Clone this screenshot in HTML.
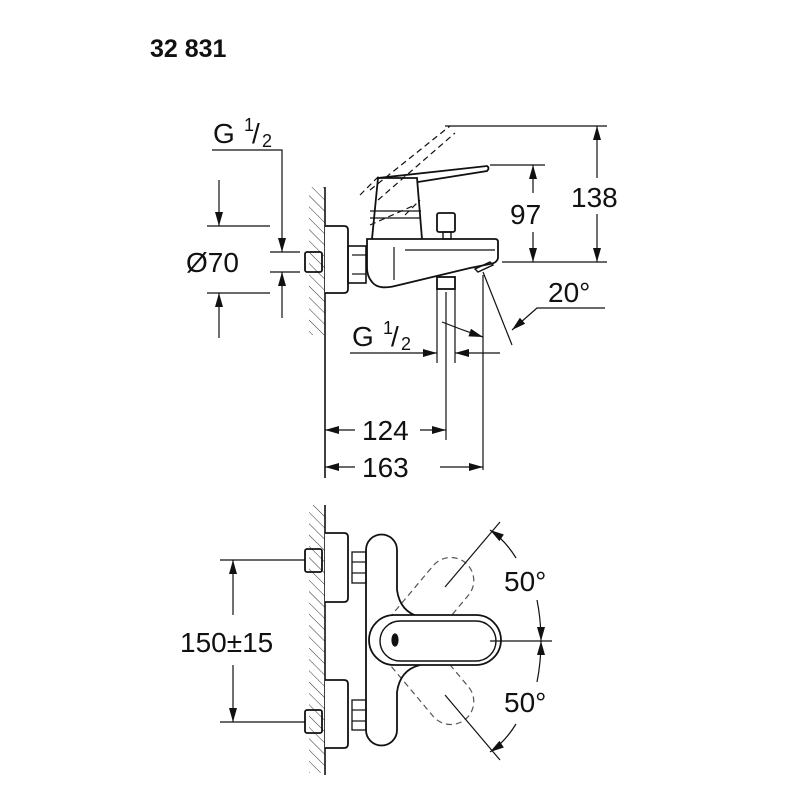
<!DOCTYPE html>
<html><head><style>body{margin:0;background:#fff}svg{display:block}text{font-family:"Liberation Sans",sans-serif;fill:#111}</style></head><body>
<svg width="800" height="800" viewBox="0 0 800 800" xmlns="http://www.w3.org/2000/svg">
<defs>
<pattern id="h" width="8" height="8" patternUnits="userSpaceOnUse" patternTransform="rotate(-45)"><line x1="0" y1="0" x2="0" y2="8" stroke="#333" stroke-width="1"/></pattern>
<marker id="a" viewBox="0 0 14 8" refX="14" refY="4" markerWidth="15" markerHeight="8" orient="auto-start-reverse" markerUnits="userSpaceOnUse"><path d="M0,0L14,4L0,8z" fill="#111"/></marker>
</defs>
<text x="150" y="57" font-size="25" font-weight="bold">32 831</text>
<g fill="none" stroke="#111" stroke-width="1.2">
<!-- TOP VIEW -->
<rect x="309" y="187" width="16" height="148" fill="url(#h)" stroke="none"/>
<line x1="325" y1="187" x2="325" y2="478" stroke-width="1.6"/>
<path d="M325,226H344Q348,226 348,230V289Q348,293 344,293H325" stroke-width="1.8" fill="#fff"/>
<rect x="305" y="252" width="17" height="20" rx="2" stroke-width="1.8"/>
<rect x="348" y="246" width="18" height="37" stroke-width="1.6"/>
<line x1="352" y1="255" x2="366" y2="255"/><line x1="352" y1="274" x2="366" y2="274"/>
<path d="M367,239H495Q498,239 498,242V258Q497,263 490,264L470,268Q420,280 395,286Q378,290 372,282Q367,276 367,268Z" stroke-width="1.8" fill="#fff"/>
<line x1="405" y1="250" x2="495" y2="250"/><line x1="394" y1="247" x2="394" y2="280"/>
<path d="M372,239L378,178H417L422,239" stroke-width="1.8"/>
<line x1="370" y1="211" x2="421" y2="211"/><line x1="370" y1="218" x2="421" y2="218"/>
<path d="M378,178L487,166Q490,168 487,171L418,182" stroke-width="1.8"/>
<rect x="437" y="213" width="18" height="19" rx="2" stroke-width="1.8"/>
<rect x="443" y="232" width="8" height="7" stroke-width="1.4"/>
<path d="M475,269L490,262L493,265L478,272Z" stroke-width="1.4"/>
<rect x="437" y="277" width="18" height="12" stroke-width="1.8"/>
<line x1="437" y1="289" x2="437" y2="363"/><line x1="455" y1="289" x2="455" y2="363"/>
<line x1="446" y1="292" x2="446" y2="440"/>
<g stroke-dasharray="6,4"><path d="M370,190L450,126"/><path d="M378,200L455,133"/><path d="M360,195L380,175M405,215L420,200"/><path d="M370,225L415,205"/></g>
<!-- dims right -->
<line x1="445" y1="126" x2="607" y2="126"/><line x1="502" y1="262" x2="607" y2="262"/><line x1="490" y1="165" x2="545" y2="165"/>
<line x1="597" y1="178" x2="597" y2="126" marker-end="url(#a)"/><line x1="597" y1="214" x2="597" y2="262" marker-end="url(#a)"/>
<line x1="533" y1="193" x2="533" y2="165" marker-end="url(#a)"/><line x1="533" y1="232" x2="533" y2="262" marker-end="url(#a)"/>
<!-- dims left -->
<line x1="207" y1="226" x2="270" y2="226"/><line x1="207" y1="293" x2="270" y2="293"/>
<line x1="219" y1="180" x2="219" y2="226" marker-end="url(#a)"/><line x1="219" y1="338" x2="219" y2="293" marker-end="url(#a)"/>
<line x1="270" y1="252" x2="300" y2="252"/><line x1="270" y1="272" x2="300" y2="272"/>
<polyline points="212,150 282,150 282,252" marker-end="url(#a)"/><line x1="282" y1="318" x2="282" y2="272" marker-end="url(#a)"/>
<!-- 20 deg -->
<line x1="483" y1="272" x2="512" y2="345"/>
<polyline points="605,308 537,308 512,330" marker-end="url(#a)"/>
<line x1="483" y1="275" x2="483" y2="470"/>
<path d="M442,322Q462,330 483,337" marker-end="url(#a)"/>
<line x1="350" y1="353" x2="437" y2="353" marker-end="url(#a)"/><line x1="500" y1="353" x2="455" y2="353" marker-end="url(#a)"/>
<line x1="355" y1="430" x2="325" y2="430" marker-end="url(#a)"/><line x1="420" y1="430" x2="446" y2="430" marker-end="url(#a)"/>
<line x1="355" y1="467" x2="325" y2="467" marker-end="url(#a)"/><line x1="440" y1="467" x2="483" y2="467" marker-end="url(#a)"/>
<!-- BOTTOM VIEW -->
<rect x="309" y="505" width="16" height="268" fill="url(#h)" stroke="none"/>
<line x1="325" y1="505" x2="325" y2="775" stroke-width="1.6"/>
<path d="M325,533H344Q348,533 348,537V598Q348,602 344,602H325" stroke-width="1.8" fill="#fff"/>
<path d="M325,680H344Q348,680 348,684V744Q348,748 344,748H325" stroke-width="1.8" fill="#fff"/>
<rect x="305" y="549" width="17" height="23" rx="2" stroke-width="1.8"/>
<rect x="305" y="710" width="17" height="23" rx="2" stroke-width="1.8"/>
<rect x="352" y="552" width="14" height="31" stroke-width="1.3"/><rect x="352" y="700" width="14" height="30" stroke-width="1.3"/>
<line x1="352" y1="562" x2="366" y2="562"/><line x1="352" y1="573" x2="366" y2="573"/><line x1="352" y1="710" x2="366" y2="710"/><line x1="352" y1="721" x2="366" y2="721"/>
<g stroke-dasharray="6,4" stroke="#555">
<rect x="-23" y="-23" width="125" height="46" rx="23" transform="translate(400,641) rotate(-50)" fill="none"/>
<rect x="-23" y="-23" width="125" height="46" rx="23" transform="translate(400,641) rotate(50)" fill="none"/>
</g>
<path d="M366,730V550A15.5,15.5 0 0 1 397,550V590Q400,612 420,617" stroke-width="1.8" fill="none"/>
<path d="M420,665Q400,670 397,692V730A15.5,15.5 0 0 1 366,730" stroke-width="1.8" fill="none"/>
<path d="M394,615H476A25,25 0 0 1 476,665H394A25,25 0 0 1 394,615Z" stroke-width="1.8" fill="#fff"/>
<path d="M400,621H476A20,20 0 0 1 476,661H400A20,20 0 0 1 400,621Z" stroke-width="1.4"/>
<ellipse cx="395" cy="640" rx="3" ry="6" fill="#111"/>
<line x1="220" y1="560" x2="305" y2="560"/><line x1="220" y1="722" x2="305" y2="722"/>
<line x1="233" y1="615" x2="233" y2="560" marker-end="url(#a)"/><line x1="233" y1="665" x2="233" y2="722" marker-end="url(#a)"/>
<line x1="490" y1="641" x2="552" y2="641"/>
<line x1="445" y1="587" x2="500" y2="522"/><line x1="445" y1="695" x2="500" y2="760"/>
<path d="M516,558Q505,540 490,530" marker-end="url(#a)"/><path d="M516,724Q505,742 490,752" marker-end="url(#a)"/>
<path d="M537,600Q541,620 541,641" marker-end="url(#a)"/><path d="M537,682Q541,662 541,641" marker-end="url(#a)"/>
</g>
<g font-size="28">
<text x="571" y="207">138</text><text x="510" y="224">97</text><text x="186" y="272">Ø70</text>
<text x="213" y="143">G</text><text x="244" y="131" font-size="18">1</text><text x="252" y="143">/</text><text x="262" y="147" font-size="18">2</text>
<text x="352" y="346">G</text><text x="383" y="334" font-size="18">1</text><text x="391" y="346">/</text><text x="401" y="350" font-size="18">2</text>
<text x="548" y="302">20°</text><text x="362" y="440">124</text><text x="362" y="477">163</text>
<text x="180" y="652">150±15</text><text x="504" y="591">50°</text><text x="504" y="712">50°</text>
</g>
</svg>
</body></html>
